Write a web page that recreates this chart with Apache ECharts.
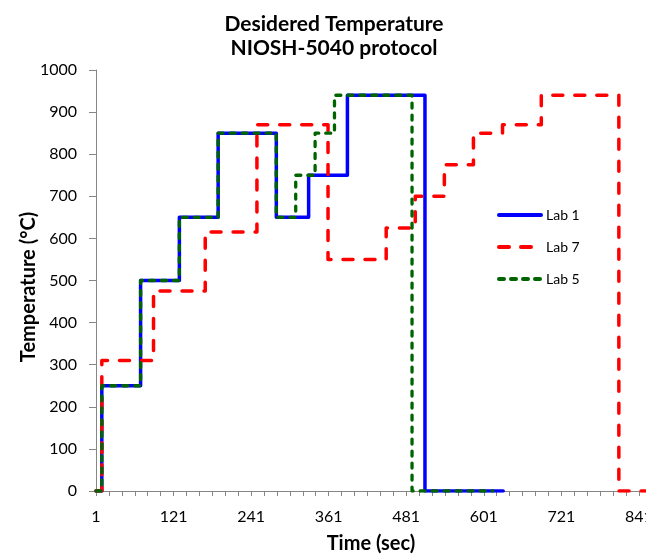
<!DOCTYPE html>
<html>
<head>
<meta charset="utf-8">
<script src="https://cdn.jsdelivr.net/npm/echarts@6/dist/echarts.min.js"></script>
<style>
html,body{margin:0;padding:0;background:#fff;}
#chart{width:646px;height:556px;}
</style>
</head>
<body>
<div id="chart"></div>
<script>
// Series data: change points (time in sec, temperature in °C), drawn as steps
const lab1Times = [1, 10, 70, 130, 190, 280, 330, 390, 510, 631];
const lab1Temps = [0, 250, 500, 650, 850, 650, 750, 940, 0, 0];

const lab7Times = [1, 10, 90, 170, 250, 360, 450, 495, 540, 585, 630, 690, 810, 852];
const lab7Temps = [0, 310, 475, 615, 870, 550, 625, 700, 775, 850, 870, 940, 0, 0];

const lab5Times = [1, 10, 70, 130, 190, 280, 310, 340, 370, 490, 615];
const lab5Temps = [0, 250, 500, 650, 850, 650, 750, 850, 940, 0, 0];

const xTickLabels = [1, 121, 241, 361, 481, 601, 721, 841];
const yTickLabels = [0, 100, 200, 300, 400, 500, 600, 700, 800, 900, 1000];

const xMin = 1, xMax = 852, xMinorStep = 20;
const xTicks = [];
for (let v = xMin; v <= xMax; v += xMinorStep) xTicks.push(v);

function pairs(ts, vs) { return ts.map((t, i) => [t, vs[i]]); }

const FONT = 'Lato';
const chart = echarts.init(document.getElementById('chart'), null, {renderer: 'canvas'});
chart.setOption({
  animation: false,
  backgroundColor: '#fff',
  graphic: [
    {type: 'text', x: 334, y: 24, style: {text: 'Desidered Temperature', font: 'bold 21px Lato', fill: '#000', align: 'center', verticalAlign: 'middle'}},
    {type: 'text', x: 334, y: 48, style: {text: 'NIOSH-5040 protocol', font: 'bold 21px Lato', fill: '#000', align: 'center', verticalAlign: 'middle'}},
    {type: 'text', x: 29, y: 287, rotation: Math.PI / 2, style: {text: 'Temperature (°C)', font: 'bold 20px Lato', fill: '#000', align: 'center', verticalAlign: 'middle'}}
  ],
  grid: {left: 96, right: 0, top: 70, bottom: 65, outerBoundsMode: 'none', containLabel: false},
  legend: {
    orient: 'vertical', left: 492, top: 203, itemWidth: 42, itemHeight: 14, itemGap: 18,
    itemStyle: {opacity: 0, borderWidth: 0},
    lineStyle: {width: 4, cap: 'round'},
    textStyle: {fontFamily: FONT, fontSize: 14, color: '#000'},
    data: ['Lab 1', 'Lab 7', 'Lab 5']
  },
  xAxis: {
    type: 'value', min: xMin, max: xMax,
    name: 'Time (sec)', nameLocation: 'middle', nameGap: 43,
    nameTextStyle: {fontFamily: FONT, fontWeight: 'bold', fontSize: 20, color: '#000'},
    axisLine: {show: true, lineStyle: {color: '#868686', width: 1}},
    axisTick: {show: true, length: 5, customValues: xTicks, lineStyle: {color: '#868686'}},
    axisLabel: {customValues: xTickLabels, fontFamily: FONT, fontSize: 16, color: '#000', margin: 18},
    splitLine: {show: false}
  },
  yAxis: {
    type: 'value', min: 0, max: 1000, interval: 100,
    axisLine: {show: true, lineStyle: {color: '#868686', width: 1}},
    axisTick: {show: true, length: 7, lineStyle: {color: '#868686'}},
    axisLabel: {fontFamily: FONT, fontSize: 16, color: '#000', margin: 19,
      formatter: v => yTickLabels.includes(v) ? String(v) : ''},
    splitLine: {show: false}
  },
  series: [
    {name: 'Lab 1', type: 'line', step: 'end', symbol: 'none', data: pairs(lab1Times, lab1Temps),
      color: '#0000FF', lineStyle: {color: '#0000FF', width: 3.5, type: 'solid', cap: 'round', join: 'round'}},
    {name: 'Lab 7', type: 'line', step: 'end', symbol: 'none', data: pairs(lab7Times, lab7Temps),
      color: '#FF0000', lineStyle: {color: '#FF0000', width: 3.5, type: [10, 12], cap: 'round', join: 'round'}},
    {name: 'Lab 5', type: 'line', step: 'end', symbol: 'none', data: pairs(lab5Times, lab5Temps),
      color: '#006400', lineStyle: {color: '#006400', width: 3.3, type: [5, 7], cap: 'round', join: 'round'}}
  ]
});
</script>
</body>
</html>
